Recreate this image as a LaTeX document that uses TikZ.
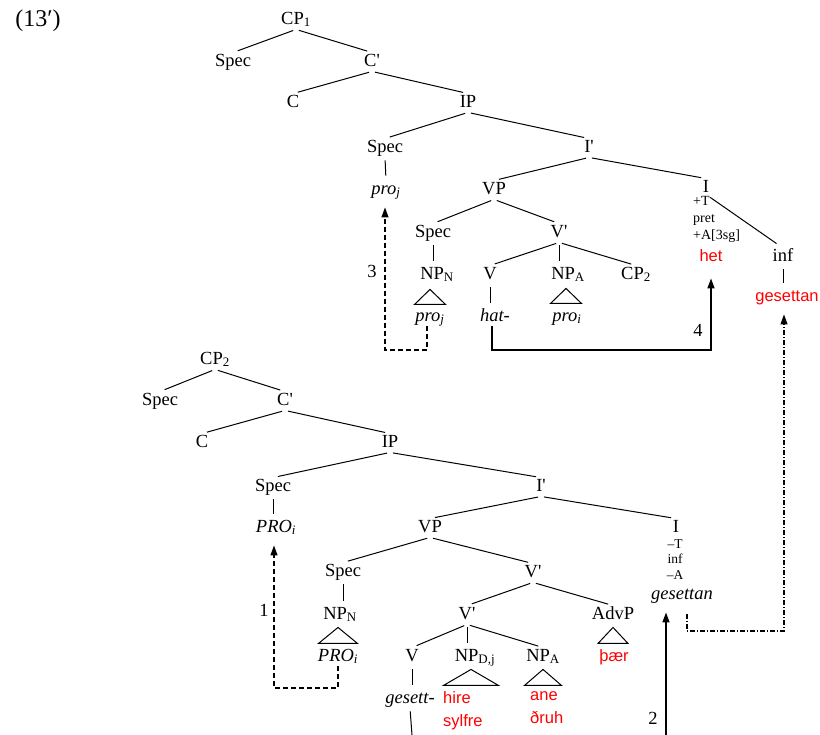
\documentclass[tikz,border=0pt]{standalone}
\usepackage{fontspec}
\setmainfont{Liberation Serif}
\newfontfamily\lexfont{Liberation Sans}
\usetikzlibrary{arrows.meta}

\begin{document}
\begin{tikzpicture}[x=1pt, y=-1pt,
  cat/.style={inner sep=1pt, text height=12.5pt, text depth=4pt,
              font=\fontsize{18.5}{22}\selectfont},
  feat/.style={inner sep=0pt, font=\fontsize{14}{17}\selectfont},
  lex/.style={inner sep=1pt, text height=12.5pt, text depth=4pt, text=red,
              font=\lexfont\fontsize{16.5}{21}\selectfont},
  lexx/.style={inner sep=0pt, align=left, text=red,
               font=\lexfont\fontsize{16.5}{23}\selectfont},
  br/.style={line width=1pt, shorten <=3pt, shorten >=5pt},
  tri/.style={line width=1pt, line join=miter},
  mv/.style={-{Triangle[length=10pt, width=7pt]}, line width=1.5pt, shorten >=8pt},
  trace/.style={mv, line width=1.2pt, dash pattern=on 5pt off 3pt},
  head/.style={mv, line width=1.2pt, dash pattern=on 5pt off 2pt on 1pt off 2pt}
]
  \useasboundingbox (0,0) rectangle (820,735);

  \node[cat, font=\fontsize{24}{26}\selectfont] (ex) at (38,22) {(13′)};

  % upper clause
  \node[cat] (cpA) at (296,20) {CP\textsubscript{1}};
  \node[cat] (specA) at (233,62) {Spec};
  \node[cat] (cbarA) at (372,62) {C\textquotesingle};
  \node[cat] (cA) at (293,103) {C};
  \node[cat] (ipA) at (468,103) {IP};
  \node[cat] (specB) at (385,148) {Spec};
  \node[cat] (proA) at (386,190) {\textit{pro}\textsubscript{\textit{j}}};
  \node[cat] (ibarA) at (589,148) {I\textquotesingle};
  \node[cat] (vpA) at (494,190) {VP};
  \node[cat] (specC) at (433,233) {Spec};
  \node[cat] (vbarA) at (559,233) {V\textquotesingle};
  \node[cat] (npNA) at (437,275) {NP\textsubscript{N}};
  \node[cat] (proB) at (430,317) {\textit{pro}\textsubscript{\textit{j}}};
  \node[cat] (vA) at (490,275) {V};
  \node[cat] (hat) at (495,317) {\textit{hat-}};
  \node[cat] (npAA) at (568,275) {NP\textsubscript{A}};
  \node[cat] (proC) at (567,317) {\textit{pro}\textsubscript{\textit{i}}};
  \node[cat] (cpB) at (636,275) {CP\textsubscript{2}};
  \node[cat] (iA) at (706,188) {I};
  \node[feat, anchor=north west, align=left] (featA) at (693,196) {+T\\pret\\+A[3sg]};
  \node[lex] (het) at (711,257) {het};
  \node[cat] (inf) at (783,257) {inf};
  \node[lex] (gesA) at (787,297) {gesettan};
  \node[cat] (lab3) at (372,273) {3};
  \node[cat] (lab4) at (698,332) {4};

  \draw[br] (cpA.south) -- (specA.north);
  \draw[br] (cpA.south) -- (cbarA.north);
  \draw[br] (cbarA.south) -- (cA.north);
  \draw[br] (cbarA.south) -- (ipA.north);
  \draw[br] (ipA.south) -- (specB.north);
  \draw[br] (ipA.south) -- (ibarA.north);
  \draw[br] (specB.south) -- (proA.north);
  \draw[br] (ibarA.south) -- (vpA.north);
  \draw[br] (ibarA.south) -- (iA.north);
  \draw[br] (vpA.south) -- (specC.north);
  \draw[br] (vpA.south) -- (vbarA.north);
  \draw[br] (specC.south) -- (specC.south |- npNA.north);
  \draw[br] (vbarA.south) -- (vA.north);
  \draw[br] (vbarA.south) -- (vbarA.south |- npAA.north);
  \draw[br] (vbarA.south) -- (cpB.north);
  \draw[br] (vA.south) -- (vA.south |- hat.north);
  \draw[line width=1pt] (iA.south east) -- ([shift={(5,-4)}]inf.north west);
  \draw[br] (inf.south) -- (inf.south |- gesA.north);
  \draw[tri] ([shift={(-7,5)}]npNA.south) -- ++(-15.5,15) -- ++(31,0) -- cycle;
  \draw[tri] ([shift={(-2,4)}]npAA.south) -- ++(-15.5,15) -- ++(31,0) -- cycle;

  % lower clause
  \node[cat] (cpC) at (215,360) {CP\textsubscript{2}};
  \node[cat] (specD) at (160,401) {Spec};
  \node[cat] (cbarB) at (285,401) {C\textquotesingle};
  \node[cat] (cB) at (202,443) {C};
  \node[cat] (ipB) at (390,443) {IP};
  \node[cat] (specE) at (273,487) {Spec};
  \node[cat] (PROa) at (276,528) {\textit{PRO}\textsubscript{\textit{i}}};
  \node[cat] (ibarB) at (541,487) {I\textquotesingle};
  \node[cat] (vpB) at (430,528) {VP};
  \node[cat] (specF) at (343,572) {Spec};
  \node[cat] (vbarB) at (533,573) {V\textquotesingle};
  \node[cat] (iB) at (676,528) {I};
  \node[feat, anchor=north, align=center, font=\fontsize{13.5}{15.5}\selectfont]
    (featB) at (675,539) {--T\\inf\\--A};
  \node[cat] (gesB) at (682,595) {\textit{gesettan}};
  \node[cat] (npNB) at (340,615) {NP\textsubscript{N}};
  \node[cat] (PROb) at (338,657) {\textit{PRO}\textsubscript{\textit{i}}};
  \node[cat] (vbarC) at (467,615) {V\textquotesingle};
  \node[cat] (advp) at (613,615) {AdvP};
  \node[lex] (thaer) at (614,657) {þær};
  \node[cat] (vB) at (412,657) {V};
  \node[cat] (npDB) at (475,657) {NP\textsubscript{D,j}};
  \node[cat] (npAB) at (543,657) {NP\textsubscript{A}};
  \node[cat] (gesett) at (410,699) {\textit{gesett-}};
  \node[lexx, anchor=north west] (hire) at (443,691) {hire\\sylfre};
  \node[lexx, anchor=north west] (ane) at (530,691) {ane\\ðruh};
  \node[cat] (lab1) at (264,612) {1};
  \node[cat] (lab2) at (653,720) {2};

  \draw[br] (cpC.south) -- (specD.north);
  \draw[br] (cpC.south) -- (cbarB.north);
  \draw[br] (cbarB.south) -- (cB.north);
  \draw[br] (cbarB.south) -- (ipB.north);
  \draw[br] (ipB.south) -- (specE.north);
  \draw[br] (ipB.south) -- (ibarB.north);
  \draw[br] (specE.south) -- (specE.south |- PROa.north);
  \draw[br] (ibarB.south) -- (vpB.north);
  \draw[br] (ibarB.south) -- (iB.north);
  \draw[br] (vpB.south) -- (specF.north);
  \draw[br] (vpB.south) -- (vbarB.north);
  \draw[br] (specF.south) -- (specF.south |- npNB.north);
  \draw[br] (vbarB.south) -- (vbarC.north);
  \draw[br] (vbarB.south) -- (advp.north);
  \draw[br] (vbarC.south) -- (vB.north);
  \draw[br] (vbarC.south) -- (vbarC.south |- npDB.north);
  \draw[br] (vbarC.south) -- (npAB.north);
  \draw[br] (vB.south) -- (vB.south |- gesett.north);
  \draw[tri] ([shift={(-2,3)}]npNB.south) -- ++(-19.5,16) -- ++(39,0) -- cycle;
  \draw[tri] ([shift={(0,3)}]advp.south) -- ++(-15,16) -- ++(30,0) -- cycle;
  \draw[tri] ([shift={(-4,3)}]npDB.south) -- ++(-27.5,16) -- ++(55,0) -- cycle;
  \draw[tri] ([shift={(0,3)}]npAB.south) -- ++(-18.5,16) -- ++(37,0) -- cycle;

  % movement paths
  \coordinate (bend1) at (274,688);
  \coordinate (bend3) at (385,350);
  \coordinate (bend4) at (711,350);
  \coordinate (bend5) at (784,631);
  \coordinate (foot1) at (412,735);
  \coordinate (foot2) at (666,735);

  \draw[line width=1pt, shorten <=3pt] (gesett.south) -- (foot1);
  \draw[trace] ([xshift=-3pt]proB.south) |- (bend3) -- (bend3 |- proA.south);
  \draw[mv, shorten >=12pt] ([xshift=-3pt]hat.south) |- (bend4) -- (bend4 |- het.south);
  \draw[trace] (PROb.south) |- (bend1) -- (bend1 |- PROa.south);
  \draw[mv] (foot2) -- (foot2 |- gesB.south);
  \draw[head] ([shift={(5,10)}]gesB.south) |- (bend5) -- (bend5 |- gesA.south);
\end{tikzpicture}
\end{document}
